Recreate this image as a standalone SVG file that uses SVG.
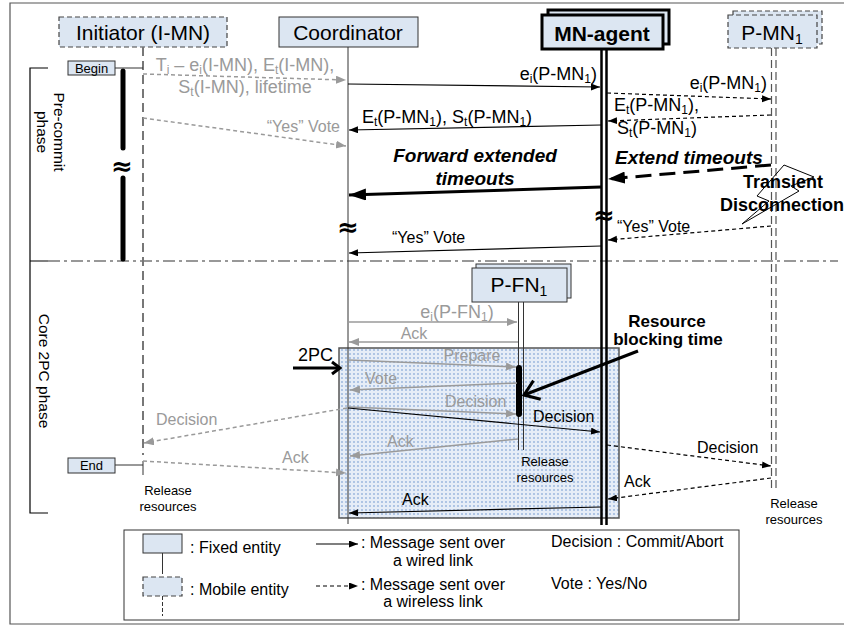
<svg xmlns="http://www.w3.org/2000/svg" width="844" height="626" viewBox="0 0 844 626">
<defs>
<style>
text{font-family:"Liberation Sans",Arial,Helvetica,sans-serif;fill:#000}
.g{fill:#9a9a9a}
.s16{font-size:16px}
.s18{font-size:18px}
.s13{font-size:13px}
.s21{font-size:21px}
.sb{font-size:12px}
.bi{font-weight:bold;font-style:italic;font-size:19px}
.b{font-weight:bold}
.sym{font-family:"DejaVu Sans",sans-serif;font-weight:bold;font-size:26px}
.fx{fill:#dce6f2;stroke:#333;stroke-width:1}
.mb{fill:#dce6f2;stroke:#444;stroke-width:1.2;stroke-dasharray:5 3}
.m{fill:none;stroke:#000;stroke-width:1.2;marker-end:url(#ah)}
.md{fill:none;stroke:#000;stroke-width:1.2;stroke-dasharray:4 3;marker-end:url(#ah)}
.gm{fill:none;stroke:#9a9a9a;stroke-width:1.5;marker-end:url(#ahg)}
.gmd{fill:none;stroke:#9a9a9a;stroke-width:1.5;stroke-dasharray:4 3;marker-end:url(#ahg)}
.mll{stroke:#555;stroke-width:1.2;stroke-dasharray:8 4}
</style>
<marker id="ah" markerUnits="userSpaceOnUse" markerWidth="10" markerHeight="8" refX="9" refY="3.5" orient="auto"><path d="M0,0 L9,3.5 L0,7 z" fill="#000"/></marker>
<marker id="ahg" markerUnits="userSpaceOnUse" markerWidth="11" markerHeight="9" refX="10" refY="4" orient="auto"><path d="M0,0 L10,4 L0,8 z" fill="#9a9a9a"/></marker>
<marker id="ahb" markerUnits="userSpaceOnUse" markerWidth="18" markerHeight="12" refX="17" refY="6" orient="auto"><path d="M0,0 L17,6 L0,12 z" fill="#000"/></marker>
<marker id="chev" markerUnits="userSpaceOnUse" markerWidth="12" markerHeight="14" refX="10" refY="7" orient="auto" overflow="visible"><path d="M2,1 L10,7 L2,13" fill="none" stroke="#000" stroke-width="3"/></marker>
<marker id="chevL" markerUnits="userSpaceOnUse" markerWidth="18" markerHeight="22" refX="16" refY="11" orient="auto" overflow="visible"><path d="M2,1 L16,11 L2,21" fill="none" stroke="#000" stroke-width="3"/></marker>
<pattern id="dots" width="4" height="4" patternUnits="userSpaceOnUse"><rect width="4" height="4" fill="#e6edf7"/><circle cx="2" cy="2" r="0.9" fill="#95b2dc"/></pattern>
</defs>

<rect width="844" height="626" fill="#fff"/>
<path d="M844,3 H10 V624 H844" fill="none" stroke="#555" stroke-width="1.2"/>

<g id="phases">
<path d="M48,68 H30 V513 H48 M30,261 H48" fill="none" stroke="#000" stroke-width="1.2"/>
<line x1="48" y1="261" x2="838" y2="261" stroke="#777" stroke-width="1.5" stroke-dasharray="12 4 3 4"/>
<text transform="translate(54,132) rotate(90)" text-anchor="middle" style="font-size:15.5px">Pre-commit</text>
<text transform="translate(37,132) rotate(90)" text-anchor="middle" style="font-size:15.5px">phase</text>
<text transform="translate(39,371) rotate(90)" text-anchor="middle" style="font-size:15.5px">Core 2PC phase</text>
</g>

<g id="twopc-area">
<rect x="339" y="348" width="280" height="170" fill="url(#dots)" stroke="#555" stroke-width="1.5"/>
</g>

<g id="initiator">
<rect class="mb" x="59" y="17" width="168" height="30"/>
<text class="s21" x="143" y="40" text-anchor="middle">Initiator (I-MN)</text>
<line x1="143" y1="47" x2="143" y2="455" stroke="#777" stroke-width="2" stroke-dasharray="9 5"/>
<line x1="143" y1="461" x2="143" y2="475" stroke="#555" stroke-width="1.2"/>
<line x1="123" y1="71" x2="123" y2="148" stroke="#000" stroke-width="5" stroke-linecap="round"/>
<line x1="123" y1="178" x2="123" y2="259" stroke="#000" stroke-width="5" stroke-linecap="round"/>
<text class="sym" x="122" y="175" text-anchor="middle">≈</text>
</g>

<g id="begin">
<rect class="fx" x="68" y="61" width="47" height="14"/>
<text class="s13" x="91.5" y="72.5" text-anchor="middle">Begin</text>
<line x1="115" y1="68" x2="143" y2="68" stroke="#333" stroke-width="1"/>
</g>

<g id="end">
<rect class="fx" x="68" y="458" width="47" height="15"/>
<text class="s13" x="91.5" y="470" text-anchor="middle">End</text>
<line x1="115" y1="465" x2="143" y2="465" stroke="#333" stroke-width="1"/>
<text class="s13" x="168" y="495" text-anchor="middle">Release</text>
<text class="s13" x="168" y="511" text-anchor="middle">resources</text>
</g>

<g id="coordinator">
<rect class="fx" x="279" y="17" width="139" height="30"/>
<text class="s21" x="348" y="40" text-anchor="middle">Coordinator</text>
<line x1="348" y1="47" x2="348" y2="524" stroke="#333" stroke-width="1"/>
<text class="sym" x="348" y="236" text-anchor="middle">≈</text>
</g>

<g id="mn-agent">
<rect x="548" y="10" width="121" height="34" fill="#dce6f2" stroke="#000" stroke-width="3"/>
<rect x="542" y="15" width="121" height="34" fill="#dce6f2" stroke="#000" stroke-width="3"/>
<text class="s21 b" x="602" y="41" text-anchor="middle">MN-agent</text>
<line x1="601.5" y1="49" x2="601.5" y2="525" stroke="#000" stroke-width="2.5"/>
<line x1="606.5" y1="49" x2="606.5" y2="525" stroke="#000" stroke-width="2.5"/>
<text class="sym" x="604" y="224" text-anchor="middle">≈</text>
</g>

<g id="p-mn1">
<rect class="mb" x="733" y="11" width="89" height="33"/>
<rect class="mb" x="728" y="15" width="89" height="33"/>
<text class="s21" x="772" y="40" text-anchor="middle">P-MN<tspan font-size="14" dy="4">1</tspan></text>
<line class="mll" x1="771.5" y1="48" x2="771.5" y2="488"/>
<line class="mll" x1="776" y1="48" x2="776" y2="488"/>
<text class="s13" x="794" y="508" text-anchor="middle">Release</text>
<text class="s13" x="794" y="524" text-anchor="middle">resources</text>
</g>

<g id="p-fn1">
<rect class="fx" x="476" y="264" width="95" height="34"/>
<rect class="fx" x="472" y="268" width="95" height="34"/>
<text class="s21" x="519" y="292" text-anchor="middle">P-FN<tspan font-size="14" dy="4">1</tspan></text>
<line x1="518.5" y1="302" x2="518.5" y2="450" stroke="#333" stroke-width="1"/>
<line x1="523.5" y1="302" x2="523.5" y2="450" stroke="#333" stroke-width="1"/>
<line x1="519" y1="368" x2="519" y2="414" stroke="#000" stroke-width="6" stroke-linecap="round"/>
<text class="s13" x="545" y="466" text-anchor="middle">Release</text>
<text class="s13" x="545" y="482" text-anchor="middle">resources</text>
</g>

<g id="transient">
<polygon points="784,165 814,177 791,186 799,191 742,224 769,201 757,196" fill="none" stroke="#000" stroke-width="1"/>
<text class="b s18" x="783" y="188" text-anchor="middle">Transient</text>
<text class="b s18" x="720" y="211">Disconnection</text>
</g>

<g id="connectors">
<line class="gmd" x1="143" y1="74" x2="346" y2="80"/>
<text class="g s18" x="245" y="71" text-anchor="middle">T<tspan class="sb" dy="3">i</tspan><tspan dy="-3"> – e</tspan><tspan class="sb" dy="3">i</tspan><tspan dy="-3">(I-MN), E</tspan><tspan class="sb" dy="3">t</tspan><tspan dy="-3">(I-MN),</tspan></text>
<text class="g s18" x="245" y="93" text-anchor="middle">S<tspan class="sb" dy="3">t</tspan><tspan dy="-3">(I-MN), lifetime</tspan></text>

<line class="gmd" x1="143" y1="118" x2="346" y2="146"/>
<text class="g s16" x="340" y="132" text-anchor="end">“Yes” Vote</text>

<line class="m" x1="348" y1="84" x2="600" y2="87"/>
<text class="s18" x="597" y="80" text-anchor="end">e<tspan class="sb" dy="3">i</tspan><tspan dy="-3">(P-MN</tspan><tspan class="sb" dy="3">1</tspan><tspan dy="-3">)</tspan></text>

<line class="md" x1="607" y1="93" x2="771" y2="99"/>
<text class="s18" x="767" y="89" text-anchor="end">e<tspan class="sb" dy="3">i</tspan><tspan dy="-3">(P-MN</tspan><tspan class="sb" dy="3">1</tspan><tspan dy="-3">)</tspan></text>

<line class="md" x1="771" y1="115" x2="608" y2="121"/>
<text class="s18" x="614" y="111">E<tspan class="sb" dy="3">t</tspan><tspan dy="-3">(P-MN</tspan><tspan class="sb" dy="3">1</tspan><tspan dy="-3">),</tspan></text>
<text class="s18" x="617" y="134">S<tspan class="sb" dy="3">t</tspan><tspan dy="-3">(P-MN</tspan><tspan class="sb" dy="3">1</tspan><tspan dy="-3">)</tspan></text>

<line class="m" x1="601" y1="125" x2="349" y2="130"/>
<text class="s18" x="362" y="123">E<tspan class="sb" dy="3">t</tspan><tspan dy="-3">(P-MN</tspan><tspan class="sb" dy="3">1</tspan><tspan dy="-3">), S</tspan><tspan class="sb" dy="3">t</tspan><tspan dy="-3">(P-MN</tspan><tspan class="sb" dy="3">1</tspan><tspan dy="-3">)</tspan></text>

<line x1="601" y1="187" x2="349" y2="195" stroke="#000" stroke-width="3" marker-end="url(#ahb)"/>
<text class="bi" x="475" y="162" text-anchor="middle">Forward extended</text>
<text class="bi" x="475" y="185" text-anchor="middle">timeouts</text>

<line x1="771" y1="165" x2="608" y2="179" stroke="#000" stroke-width="3" stroke-dasharray="16 8" marker-end="url(#ahb)"/>
<text class="bi" x="615" y="164">Extend timeouts</text>

<line class="md" x1="771" y1="226" x2="608" y2="240"/>
<text class="s16" x="617" y="232">“Yes” Vote</text>

<line class="m" x1="601" y1="246" x2="349" y2="253"/>
<text class="s16" x="392" y="243">“Yes” Vote</text>

<line class="gm" x1="348" y1="322" x2="517" y2="322"/>
<text class="g s18" x="457" y="318" text-anchor="middle">e<tspan class="sb" dy="3">i</tspan><tspan dy="-3">(P-FN</tspan><tspan class="sb" dy="3">1</tspan><tspan dy="-3">)</tspan></text>

<line class="gm" x1="518" y1="342" x2="349" y2="342"/>
<text class="g s16" x="414" y="339" text-anchor="middle">Ack</text>

<line x1="293" y1="368" x2="340" y2="368" stroke="#000" stroke-width="3" marker-end="url(#chev)"/>
<text class="s18" x="298" y="361">2PC</text>

<line class="gm" x1="349" y1="360" x2="516" y2="367"/>
<text class="g s16" x="472" y="361" text-anchor="middle">Prepare</text>

<line class="gm" x1="517" y1="383" x2="350" y2="390"/>
<text class="g s16" x="365" y="384">Vote</text>

<line class="gm" x1="349" y1="407" x2="516" y2="414"/>
<text class="g s16" x="445" y="407">Decision</text>

<line class="m" x1="348" y1="408" x2="600" y2="432"/>
<text class="s16" x="533" y="422">Decision</text>

<line class="gmd" x1="347" y1="408" x2="144" y2="443"/>
<text class="g s16" x="156" y="425">Decision</text>

<line x1="638" y1="351" x2="524" y2="395" stroke="#000" stroke-width="3" marker-end="url(#chevL)"/>
<text class="b" x="667" y="327" text-anchor="middle" style="font-size:17px">Resource</text>
<text class="b" x="668" y="345" text-anchor="middle" style="font-size:17px">blocking time</text>

<line class="md" x1="607" y1="445" x2="771" y2="466"/>
<text class="s16" x="697" y="453">Decision</text>

<line class="gm" x1="518" y1="439" x2="350" y2="456"/>
<text class="g s16" x="387" y="447">Ack</text>

<line class="gmd" x1="143" y1="461" x2="346" y2="473"/>
<text class="g s16" x="282" y="463">Ack</text>

<line class="md" x1="771" y1="478" x2="608" y2="499"/>
<text class="s16" x="624" y="487">Ack</text>

<line class="m" x1="601" y1="507" x2="349" y2="513"/>
<text class="s16" x="402" y="505">Ack</text>
</g>

<g id="legend">
<rect x="124" y="530" width="615" height="90" fill="#fff" stroke="#333" stroke-width="1"/>
<rect class="fx" x="143" y="534" width="39" height="19"/>
<line x1="162.5" y1="553" x2="162.5" y2="574" stroke="#333" stroke-width="1"/>
<text class="s16" x="190" y="553">: Fixed entity</text>
<rect class="mb" x="143" y="577" width="39" height="19" stroke-dasharray="4 2"/>
<line x1="162.5" y1="596" x2="162.5" y2="616" stroke="#333" stroke-width="1" stroke-dasharray="4 2"/>
<text class="s16" x="190" y="595">: Mobile entity</text>
<line class="m" x1="316" y1="544" x2="358" y2="544"/>
<text class="s16" x="433" y="548" text-anchor="middle">: Message sent over</text>
<text class="s16" x="433" y="566" text-anchor="middle">a wired link</text>
<line class="md" x1="316" y1="586" x2="358" y2="586"/>
<text class="s16" x="433" y="590" text-anchor="middle">: Message sent over</text>
<text class="s16" x="433" y="607" text-anchor="middle">a wireless link</text>
<text class="s16" x="551" y="547">Decision : Commit/Abort</text>
<text class="s16" x="551" y="589">Vote : Yes/No</text>
</g>
</svg>
